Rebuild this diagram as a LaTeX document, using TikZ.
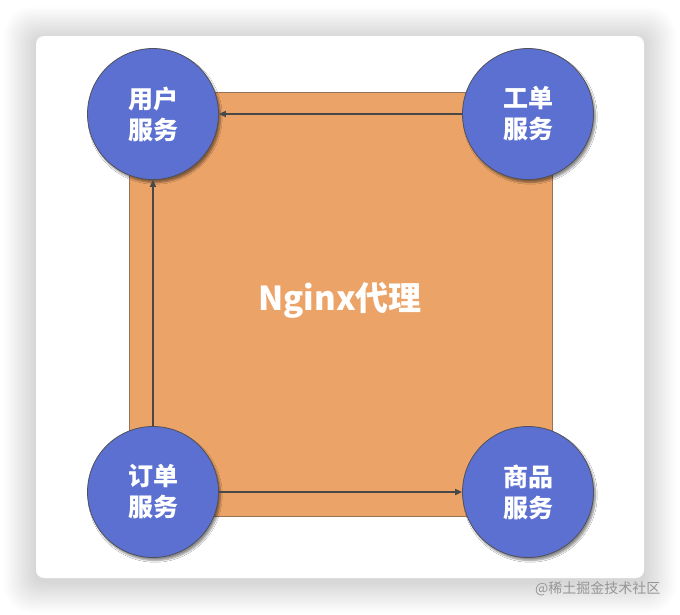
\documentclass[tikz,border=0pt]{standalone}
\usepackage{fontspec}
\newfontfamily\cjk{Noto Sans CJK SC}
\usetikzlibrary{arrows.meta,shadows.blur}
\definecolor{svcblue}{RGB}{91,112,208}
\definecolor{svcline}{RGB}{80,80,90}
\definecolor{proxyorange}{RGB}{235,163,104}
\definecolor{proxyline}{RGB}{150,115,85}
\definecolor{linkgray}{RGB}{72,72,72}
\definecolor{markgray}{RGB}{150,150,150}
\begin{document}
\begin{tikzpicture}[x=1pt,y=-1pt,
        svc/.style={circle,draw=svcline,fill=svcblue,line width=0.8pt,minimum size=131pt,inner sep=0pt,
            text=white,align=center,font=\cjk\bfseries\fontsize{25}{31}\selectfont,
            blur shadow={shadow xshift=2pt,shadow yshift=-3pt,shadow blur steps=6,shadow opacity=45}},
        link/.style={draw=linkgray,line width=2pt,-{Triangle[length=7pt,width=6pt]}}]
    \useasboundingbox (0,0) rectangle (680,614);
    \fill[white] (0,0) rectangle (680,614);
    % card shadow
    \foreach \i in {1,...,20}{
            \fill[black,opacity=0.008,rounded corners=8+\i] (36-1.6*\i,36-1.6*\i+3) rectangle (644+1.6*\i,578+1.6*\i+3);
        }
    \fill[white,rounded corners=8] (36,36) rectangle (644,578);
    % proxy square
    \draw[proxyline,fill=proxyorange,line width=0.5pt] (129,92) rectangle (552,516);
    \node[text=white,font=\cjk\bfseries\fontsize{33}{33}\selectfont] (proxy) at (340,300) {Nginx代理};
    % services
    \node[svc] (user) at (153,114) {用户\\服务};
    \node[svc] (ticket) at (528,114) {工单\\服务};
    \node[svc] (order) at (153,492) {订单\\服务};
    \node[svc] (goods) at (528,492) {商品\\服务};
    \draw[link] (ticket) -- (user);
    \draw[link] (order) -- (user);
    \draw[link] (order) -- (goods);
    \node[anchor=east,text=markgray,font=\cjk\fontsize{14}{14}\selectfont] (mark) at (664,589) {@稀土掘金技术社区};
\end{tikzpicture}
\end{document}
